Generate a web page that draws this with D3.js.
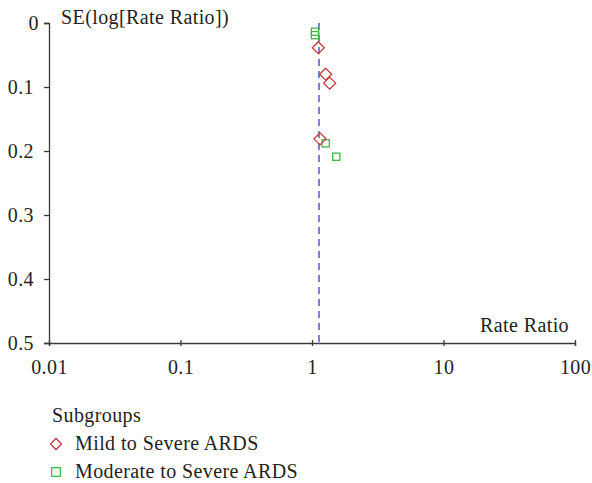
<!DOCTYPE html>
<html>
<head>
<meta charset="utf-8">
<script src="https://cdn.jsdelivr.net/npm/d3@7"></script>
<style>
  body { margin: 0; background: #fff; }
  svg text { font-family: "Liberation Serif", "Times New Roman", serif; fill: #231f20; letter-spacing: 0.4px; }
</style>
</head>
<body>
<svg id="chart"></svg>
<script>
// Funnel plot data: rate ratio (x) and SE(log[Rate Ratio]) (y)
const mildRR = [1.117, 1.27, 1.363, 1.15];
const mildSE = [0.0386, 0.080, 0.094, 0.181];
const moderateRR = [1.054, 1.054, 1.27, 1.53];
const moderateSE = [0.0136, 0.019, 0.188, 0.209];
const pooledRR = 1.13;

const xTicks = [0.01, 0.1, 1, 10, 100];
const xTickLabels = ["0.01", "0.1", "1", "10", "100"];
const yTicks = [0, 0.1, 0.2, 0.3, 0.4, 0.5];
const yTickLabels = ["0", "0.1", "0.2", "0.3", "0.4", "0.5"];

const groups = ["Mild to Severe ARDS", "Moderate to Severe ARDS"];

// SVG Dimensions
const width = 592;
const height = 483;
const plotLeft = 49, plotRight = 575, plotTop = 23, plotBottom = 343;

const red = "#c8363b";
const green = "#3fb54a";
const axisColor = "#3a3a3a";
const fontSize = "20px";

const svg = d3.select("#chart")
  .attr("width", width)
  .attr("height", height);

// Scales
const xScale = d3.scaleLog()
  .domain([0.01, 100])
  .range([plotLeft, plotRight]);

const yScale = d3.scaleLinear()
  .domain([0, 0.5])
  .range([plotTop, plotBottom]);

// Axes
const xAxis = d3.axisBottom(xScale)
  .tickValues(xTicks)
  .tickFormat((d, i) => xTickLabels[i])
  .tickSizeOuter(0)
  .tickSize(3)
  .tickPadding(14);

const yAxis = d3.axisLeft(yScale)
  .tickValues(yTicks)
  .tickFormat((d, i) => yTickLabels[i])
  .tickSizeOuter(0)
  .tickSize(5)
  .tickPadding(10);

const gx = svg.append("g")
  .attr("transform", "translate(0," + plotBottom + ")")
  .call(xAxis);
gx.selectAll(".tick line").attr("y1", -3).attr("y2", 3);

const gy = svg.append("g")
  .attr("transform", "translate(" + plotLeft + ",0)")
  .call(yAxis);
gy.selectAll(".tick text").filter((d) => d === 0).attr("dx", 5);

[gx, gy].forEach(g => {
  g.select(".domain").attr("stroke", axisColor).attr("stroke-width", 1.3);
  g.selectAll(".tick line").attr("stroke", axisColor).attr("stroke-width", 1.3);
  g.selectAll(".tick text")
    .style("font-family", "Liberation Serif, serif")
    .style("font-size", fontSize)
    .attr("fill", "#231f20");
});

// Axis titles
svg.append("text")
  .attr("x", 61)
  .attr("y", 24)
  .style("font-size", fontSize)
  .text("SE(log[Rate Ratio])");

svg.append("text")
  .attr("x", 569)
  .attr("y", 332)
  .attr("text-anchor", "end")
  .style("font-size", fontSize)
  .text("Rate Ratio");

// Pooled estimate line
svg.append("line")
  .attr("x1", xScale(pooledRR))
  .attr("x2", xScale(pooledRR))
  .attr("y1", yScale(0))
  .attr("y2", yScale(0.5))
  .attr("stroke", "#5868b6")
  .attr("stroke-width", 1.6)
  .attr("stroke-dasharray", "7,5");

// Points
const diamond = (cx, cy, r) =>
  `M${cx},${cy - r}L${cx + r},${cy}L${cx},${cy + r}L${cx - r},${cy}Z`;

const mildData = mildRR.map((d, i) => [d, mildSE[i]]);
const moderateData = moderateRR.map((d, i) => [d, moderateSE[i]]);

svg.selectAll("rect.moderate")
  .data(moderateData)
  .enter()
  .append("rect")
  .attr("class", "moderate")
  .attr("x", (d) => xScale(d[0]) - 3.6)
  .attr("y", (d) => yScale(d[1]) - 3.6)
  .attr("width", 7.2)
  .attr("height", 7.2)
  .attr("fill", "none")
  .attr("stroke", green)
  .attr("stroke-width", 1.3);

svg.selectAll("path.mild")
  .data(mildData)
  .enter()
  .append("path")
  .attr("class", "mild")
  .attr("d", (d) => diamond(xScale(d[0]), yScale(d[1]), 6))
  .attr("fill", "none")
  .attr("stroke", red)
  .attr("stroke-width", 1.3);

// Legend
svg.append("text")
  .attr("x", 52)
  .attr("y", 422)
  .style("font-size", fontSize)
  .text("Subgroups");

const legendY = [444, 472];
groups.forEach((name, i) => {
  if (i === 0) {
    svg.append("path")
      .attr("d", diamond(56, legendY[i], 5.5))
      .attr("fill", "none")
      .attr("stroke", red)
      .attr("stroke-width", 1.3);
  } else {
    svg.append("rect")
      .attr("x", 56 - 4.3)
      .attr("y", legendY[i] - 4.3)
      .attr("width", 8.6)
      .attr("height", 8.6)
      .attr("fill", "none")
      .attr("stroke", green)
      .attr("stroke-width", 1.3);
  }
  svg.append("text")
    .attr("x", 75)
    .attr("y", legendY[i] + 6)
    .style("font-size", fontSize)
    .text(name);
});
</script>
</body>
</html>
